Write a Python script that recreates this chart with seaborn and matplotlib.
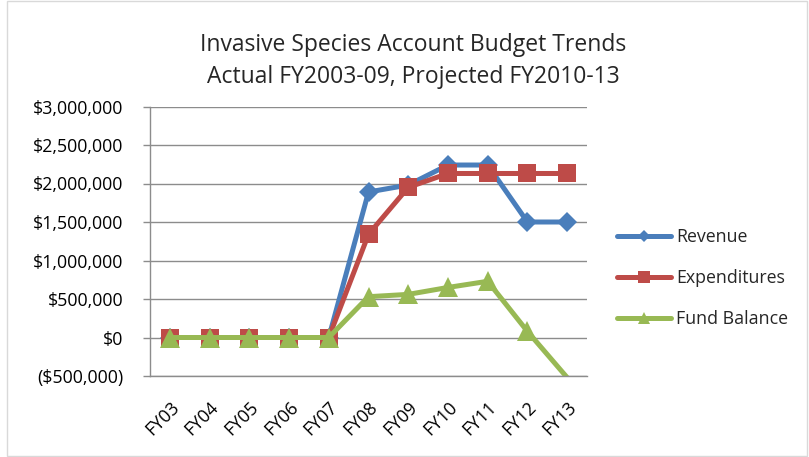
import numpy as np
import pandas as pd
import matplotlib.pyplot as plt
import matplotlib.ticker as mticker
import seaborn as sns

years = ["FY03", "FY04", "FY05", "FY06", "FY07", "FY08", "FY09", "FY10", "FY11", "FY12", "FY13"]
revenue = [0, 0, 0, 0, 0, 1890000, 1980000, 2240000, 2240000, 1500000, 1500000]
expenditures = [0, 0, 0, 0, 0, 1340000, 1950000, 2130000, 2130000, 2130000, 2130000]
fund_balance = [0, 0, 0, 0, 0, 530000, 560000, 650000, 730000, 80000, -520000]

sns.set_style("white")
plt.rcParams['font.family'] = ['Open Sans', 'DejaVu Sans']

df = pd.DataFrame({
    "year": years * 3,
    "idx": list(range(len(years))) * 3,
    "value": revenue + expenditures + fund_balance,
    "series": ["Revenue"] * 11 + ["Expenditures"] * 11 + ["Fund Balance"] * 11,
})

palette = {"Revenue": "#4A7EBB", "Expenditures": "#BE4B48", "Fund Balance": "#98B954"}
markers = {"Revenue": "D", "Expenditures": "s", "Fund Balance": "^"}
msize = {"Revenue": 10, "Expenditures": 12.5, "Fund Balance": 14}

y_min, y_max = -500000, 3000000

fig = plt.figure(figsize=(8.09, 4.57), dpi=100)
ax = fig.add_axes([150 / 809, 1 - 376 / 457, (587 - 150) / 809, (376 - 106.5) / 457])

for name in ["Revenue", "Expenditures", "Fund Balance"]:
    sub = df[df.series == name]
    # like the spreadsheet, markers outside the plot range are not drawn
    visible = [i for i, v in enumerate(sub["value"]) if y_min <= v <= y_max]
    sns.lineplot(data=sub, x="idx", y="value", ax=ax, color=palette[name],
                 marker=markers[name], markersize=msize[name], linewidth=3.6,
                 markeredgewidth=0, markevery=visible, label=name, clip_on=True)

ax.set_xlim(-0.5, 10.5)
ax.set_ylim(y_min, y_max)
ax.set_yticks(np.arange(y_min, y_max + 1, 500000))
ax.yaxis.set_major_formatter(mticker.FuncFormatter(
    lambda v, p: f"(${abs(v):,.0f})" if v < 0 else f"${v:,.0f}"))
ax.set_xticks(range(len(years)))
ax.set_xticklabels(years, rotation=45, ha="right", rotation_mode="anchor")
ax.tick_params(axis="both", labelsize=12.8, colors="black")
ax.tick_params(axis="x", length=0, pad=16)
ax.tick_params(axis="y", left=True, length=5, width=1, color="#8c8c8c", pad=14)
ax.grid(axis="y", color="#8c8c8c", linewidth=1)
ax.set_xlabel("")
ax.set_ylabel("")
for s in ["top", "right"]:
    ax.spines[s].set_visible(False)
for s in ["left", "bottom"]:
    ax.spines[s].set_color("#8c8c8c")
    ax.spines[s].set_linewidth(1)

ax.legend(loc="center left", bbox_to_anchor=(1.053, 0.364), frameon=False,
          fontsize=12.8, labelspacing=1.3, handlelength=3.0, handletextpad=0.3,
          markerscale=0.65, borderaxespad=0)

fig.text(413 / 809, 1 - 61 / 457, "Invasive Species Account Budget Trends\nActual FY2003-09, Projected FY2010-13",
         ha="center", va="center", fontsize=16.5, linespacing=1.45)

fig.patches.append(plt.Rectangle((0.009, 0.003), 0.988, 0.994, transform=fig.transFigure,
                                 fill=False, edgecolor="#d9d9d9", linewidth=1))

fig.savefig("out.png", dpi=100)
